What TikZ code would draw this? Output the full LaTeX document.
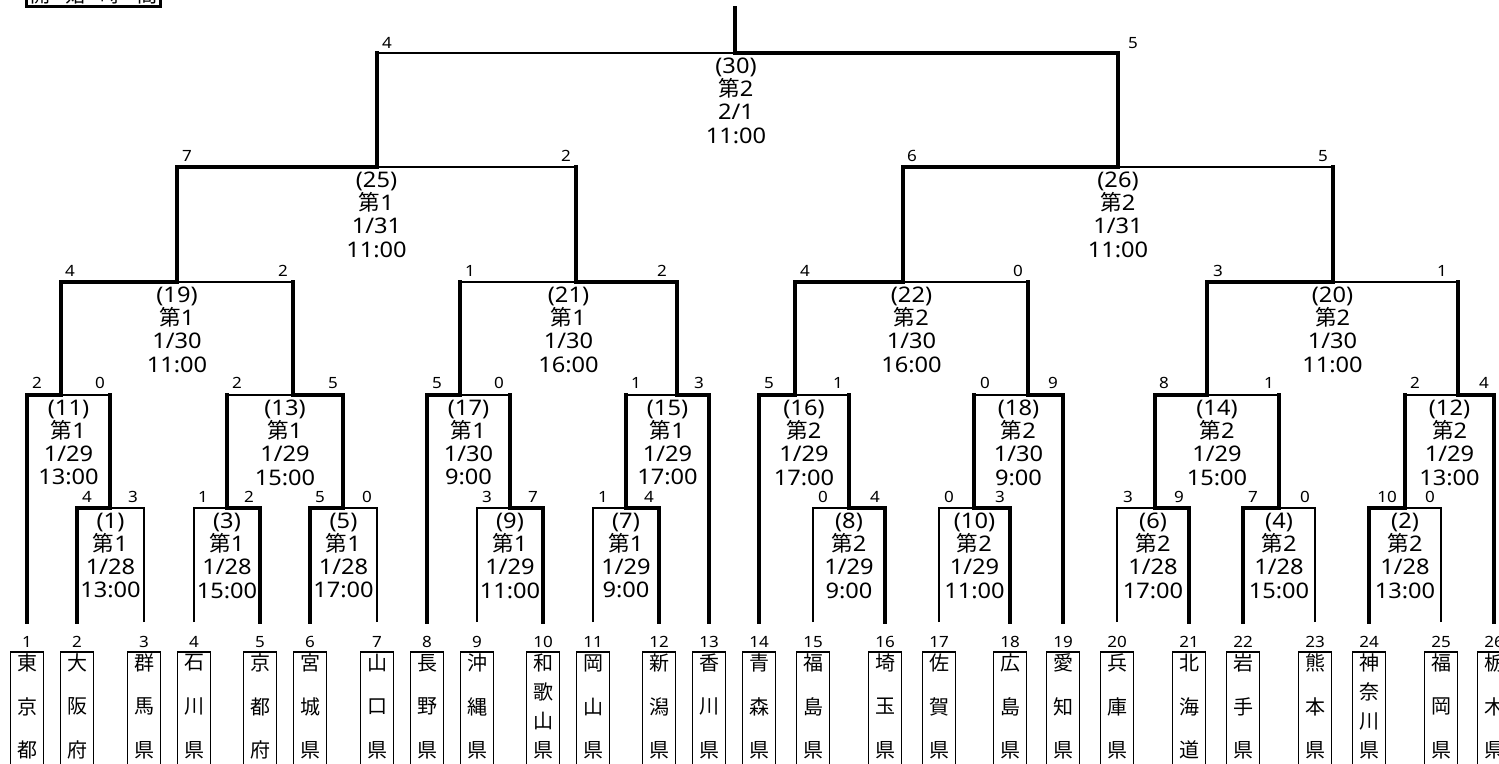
\documentclass[tikz,border=0pt]{standalone}
\usepackage{fontspec}
\setmainfont[FakeStretch=1.1]{Noto Sans}
\newfontfamily\jp{Noto Sans CJK JP}
\newcommand\dai[1]{{\jp 第}#1}
\begin{document}
\begin{tikzpicture}[x=1pt,y=-1pt,
  win/.style={line width=4.8pt,line cap=rect},
  lose/.style={line width=1.8pt},
  score/.style={inner sep=0pt,font=\fontsize{15.5}{16}\selectfont},
  info/.style={inner sep=0pt,anchor=north,align=center,yshift=-4.5pt,
    font=\fontsize{21.5}{23.3}\selectfont},
  prefbox/.style={draw,line width=1.8pt,anchor=north,minimum width=33pt,
    minimum height=140pt,inner sep=0pt},
  kanji/.style={inner sep=0pt,font=\jp\fontsize{20}{20}\selectfont}]
\lineskiplimit=-30pt\relax
\useasboundingbox (0,0) rectangle (1499,763);
\clip (0,0) rectangle (1499,763);

% the start time box, cut by the top edge
\node[draw,line width=3pt,minimum width=134pt,minimum height=40pt,anchor=south,inner sep=0pt]
  (start) at (93.5,7.5) {};
\foreach \c/\x [count=\i] in {開/40,始/75,時/110,間/147}
  \node[kanji] (h\i) at (\x,-5) {\c};

% the teams: foot of the line, number and name box
\foreach \n/\x/\gap/\pname in {1/27/43.5/{東,京,都},2/77/43.5/{大,阪,府},3/144/43.5/{群,馬,県},
  4/194/43.5/{石,川,県},5/260/43.5/{京,都,府},6/310/43.5/{宮,城,県},7/377/43.5/{山,口,県},
  8/427/43.5/{長,野,県},9/477/43.5/{沖,縄,県},10/543/29/{和,歌,山,県},11/593/43.5/{岡,山,県},
  12/659/43.5/{新,潟,県},13/709/43.5/{香,川,県},14/759/43.5/{青,森,県},15/813/43.5/{福,島,県},
  16/885/43.5/{埼,玉,県},17/939/43.5/{佐,賀,県},18/1010/43.5/{広,島,県},19/1063/43.5/{愛,知,県},
  20/1117/43.5/{兵,庫,県},21/1189/43.5/{北,海,道},22/1243/43.5/{岩,手,県},23/1315/43.5/{熊,本,県},
  24/1369/29/{神,奈,川,県},25/1441/43.5/{福,岡,県},26/1494/43.5/{栃,木,県}}
{
  \coordinate (t\n) at (\x,622);
  \node[score] (n\n) at (\x,642) {\n};
  \node[prefbox] (p\n) at (\x,651) {};
  \foreach \c [count=\i] in \pname
    \node[kanji] (c\n-\i) at (\x,{663+(\i-1)*\gap}) {\c};
}

% the match points (where the line goes up)
\foreach \m/\x/\y in {1/110/508,3/227/508,5/343/508,9/510/508,7/626/508,8/849/508,
  10/974/508,6/1155/508,4/1279/508,2/1405/508,
  11/61/395,13/293/395,17/460/395,15/677/395,16/795/395,18/1028/395,14/1207/395,12/1458/395,
  19/177/282,21/576/282,22/903/282,20/1333/282,
  25/377/167,26/1118/167,30/735/53}
  \coordinate (m\m) at (\x,\y);
\coordinate (top) at (735,8);

% first round: winner thick, loser thin
\foreach \m/\w/\l in {1/t2/t3,3/t5/t4,5/t6/t7,9/t10/t9,7/t12/t11,
  8/t16/t15,10/t18/t17,6/t21/t20,4/t22/t23,2/t24/t25}
{
  \draw[win] (\w) |- (m\m);
  \draw[lose] (\l) |- (m\m);
}
% later rounds: the loser came up thick, its half of the bar is thin
\foreach \m/\w/\l in {11/t1/m1,13/m5/m3,17/t8/m9,15/t13/m7,16/t14/m8,18/t19/m10,
  14/m6/m4,12/t26/m2,19/m11/m13,21/m15/m17,22/m16/m18,20/m14/m12,
  25/m19/m21,26/m22/m20,30/m26/m25}
{
  \draw[win] (\w) |- (m\m);
  \draw[win] (\l) -- (\l |- m\m);
  \draw[lose] (\l |- m\m) -- (m\m);
}
\draw[win] (m30) -- (top);

% scores
\foreach \x/\y/\s [count=\i] in {87/497/4,133/497/3,203/497/1,249/497/2,320/497/5,367/497/0,
  487/497/3,533/497/7,603/497/1,649/497/4,823/497/0,875/497/4,949/497/0,1000/497/3,
  1128/497/3,1179/497/9,1253/497/7,1305/497/0,1387/497/10,1430/497/0,
  37/383/2,100/383/0,237/383/2,333/383/5,437/383/5,499/383/0,636/383/1,699/383/3,
  769/383/5,838/383/1,985/383/0,1053/383/9,1164/383/8,1269/383/1,1415/383/2,1484/383/4,
  70/271/4,283/271/2,470/271/1,662/271/2,805/271/4,1018/271/0,1218/271/3,1442/271/1,
  187/156/7,566/156/2,912/156/6,1323/156/5,
  387/43/4,1133/43/5}
  \node[score] (s\i) at (\x,\y) {\s};

% match number, court, date and time
\foreach \m/\x/\y/\txt in {1/110.5/508/{(1)\\\dai{1}\\1/28\\13:00},
  3/227/508/{(3)\\\dai{1}\\1/28\\15:00},
  5/343.5/508/{(5)\\\dai{1}\\1/28\\17:00},
  9/510/508/{(9)\\\dai{1}\\1/29\\11:00},
  7/626/508/{(7)\\\dai{1}\\1/29\\9:00},
  8/849/508/{(8)\\\dai{2}\\1/29\\9:00},
  10/974.5/508/{(10)\\\dai{2}\\1/29\\11:00},
  6/1153/508/{(6)\\\dai{2}\\1/28\\17:00},
  4/1279/508/{(4)\\\dai{2}\\1/28\\15:00},
  2/1405/508/{(2)\\\dai{2}\\1/28\\13:00},
  11/68.5/395/{(11)\\\dai{1}\\1/29\\13:00},
  13/285/395/{(13)\\\dai{1}\\1/29\\15:00},
  17/468.5/395/{(17)\\\dai{1}\\1/30\\9:00},
  15/667.5/395/{(15)\\\dai{1}\\1/29\\17:00},
  16/804/395/{(16)\\\dai{2}\\1/29\\17:00},
  18/1018.5/395/{(18)\\\dai{2}\\1/30\\9:00},
  14/1217/395/{(14)\\\dai{2}\\1/29\\15:00},
  12/1449.5/395/{(12)\\\dai{2}\\1/29\\13:00},
  19/177/282/{(19)\\\dai{1}\\1/30\\11:00},
  21/568.5/282/{(21)\\\dai{1}\\1/30\\16:00},
  22/911.5/282/{(22)\\\dai{2}\\1/30\\16:00},
  20/1332.5/282/{(20)\\\dai{2}\\1/30\\11:00},
  25/376.5/167/{(25)\\\dai{1}\\1/31\\11:00},
  26/1118/167/{(26)\\\dai{2}\\1/31\\11:00},
  30/736/53/{(30)\\\dai{2}\\2/1\\11:00}}
  \node[info] (i\m) at (\x,\y) {\txt};
\end{tikzpicture}
\end{document}
